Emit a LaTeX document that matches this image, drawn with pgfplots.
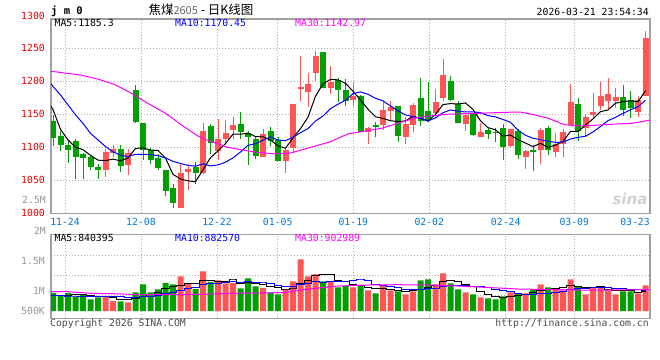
\documentclass[border=0pt]{standalone}
\usepackage{pgfplots}
\pgfplotsset{compat=1.18}
\usepackage{pgfplotstable}
\usepackage{fontspec}
\setmainfont{DejaVu Sans Mono}
\newfontfamily\cjk{Noto Sans CJK SC}
\newfontfamily\sansf{DejaVu Sans}
\definecolor{upc}{RGB}{255,85,85}
\definecolor{dnc}{RGB}{0,160,0}
\definecolor{framec}{RGB}{160,160,160}
\definecolor{gridc}{RGB}{175,175,175}
\definecolor{datec}{RGB}{0,120,215}
\definecolor{pricec}{RGB}{235,0,0}
\definecolor{ma10c}{RGB}{0,0,255}
\definecolor{ma30c}{RGB}{255,0,255}
\definecolor{volc}{RGB}{150,150,150}

% up (red) candles: index, open, high, low, close, volume (thousands)
\pgfplotstableread{
i o h l c v
7 1065.8 1098 1055.6 1092.9 620
8 1091.8 1103 1085.2 1096.9 422
10 1073.5 1098 1058.2 1091.3 367
17 1008.7 1075 1007.7 1061.7 1464
18 1063 1075 1035 1067 1169
20 1060.7 1137 1060 1125 1675
22 1095 1143 1080 1113 1296
23 1113 1141 1106 1122 1169
24 1126 1145 1112 1133 1182
28 1085.2 1127 1085 1119.9 971
31 1079 1098 1061.2 1096.4 928
32 1099.5 1166 1091.3 1165.3 1253
33 1187.8 1238.3 1169.4 1190.8 2182
34 1183.2 1211.7 1160.7 1195.4 1464
35 1212.8 1245.9 1200 1238.3 1561
37 1189.8 1223 1181 1199 1253
40 1172 1199 1161.7 1178 1000
42 1123.5 1131 1105.6 1129.6 874
44 1133.7 1169.4 1126 1156.6 1055
45 1154.6 1169.4 1141.3 1160.7 874
47 1114.8 1146.4 1105.6 1135.2 705
48 1133.2 1166.8 1123.5 1164.3 831
51 1151.5 1188.3 1146.4 1167.9 1127
52 1174.5 1234.2 1169.4 1208.7 1591
55 1135.2 1150.5 1125 1149 789
57 1114.8 1136.2 1114.8 1123.5 578
61 1102 1127 1100.5 1127 789
63 1085.2 1095.4 1067.4 1094.4 747
65 1096.4 1128.6 1074 1126 1127
67 1092.9 1120.9 1085.2 1105.6 958
68 1105.6 1127 1085.2 1123.5 874
69 1133.7 1194.9 1133.7 1167.9 1338
71 1128.6 1149 1115.8 1145.4 705
72 1148.5 1182.1 1143.9 1152.6 1000
73 1161.7 1199 1155.6 1178 1000
74 1169.4 1205 1155.6 1181.1 874
75 1169.9 1189.8 1159.2 1176 705
78 1154 1177 1146.4 1170.9 747
79 1177 1275.5 1177 1264.8 1085
}\uptab

% down (green) candles
\pgfplotstableread{
i o h l c v
0 1140.3 1149 1102 1113.3 760
1 1117.3 1124.5 1094.4 1102.6 633
2 1103.6 1110.7 1076.5 1096.4 760
3 1109.7 1111.7 1052 1085.2 603
4 1089.8 1091.3 1052.5 1084.2 705
5 1085.2 1087.8 1065.3 1070.4 494
6 1069.4 1075 1052 1065.8 578
9 1097.4 1103.6 1062.2 1070.9 409
11 1186.2 1193.9 1137.2 1138.8 789
12 1137.2 1137.2 1081 1096.4 1127
13 1095.4 1099.5 1075 1081.1 789
14 1083.2 1090.3 1064.8 1067.9 916
15 1065.3 1065.3 1026.5 1033.7 1182
16 1037.8 1044.4 1007.7 1015.3 1127
19 1069.9 1077.6 1044.4 1060.7 928
21 1132.7 1134.7 1090.3 1106.6 1224
25 1135.2 1154 1111.7 1123.5 958
26 1122 1124.5 1072.5 1114.8 1380
27 1112.2 1114.8 1082.7 1087.2 1042
29 1125 1130 1102 1109.7 789
30 1110.7 1115.8 1079 1079 705
36 1244.4 1244.4 1189 1189.8 1253
38 1201 1205 1167.9 1187.2 1000
39 1187.2 1202.6 1162.8 1169.4 1055
41 1177 1179.6 1122.5 1123.5 1068
43 1133 1138.8 1114.8 1130 747
46 1161.7 1162.8 1108.2 1116.8 831
49 1174 1205 1132.2 1140.3 1296
50 1155 1198.5 1138.8 1141.3 1338
53 1200 1207.7 1169.4 1172 1169
54 1165.8 1169.4 1136.2 1137.2 916
56 1150.5 1151.5 1116.8 1118.4 705
58 1126 1128.6 1111.7 1119.9 536
59 1123.5 1128.6 1108.2 1121 494
60 1129.6 1135.2 1081.1 1100.5 620
62 1125 1127 1082.7 1088.8 747
64 1096.4 1103 1063.3 1093.4 916
66 1129.6 1132.2 1087.8 1096.4 1000
70 1165.3 1174.5 1109.7 1125 1042
76 1176 1193.4 1147.4 1156.6 831
77 1172 1184.7 1143.9 1159.2 831
}\dntab

% price moving averages (MA5, MA10); vol moving averages (thousands)
\pgfplotstableread{
i m5 m10 v5 v10
-0.27 1162 1196 654 646
0 1157 1192 654 646
1 1127 1179 646 641
2 1111 1164 675 633
3 1100 1149 684 633
4 1096.3 1136 692 625
5 1087.8 1121 639 616
6 1080.4 1111 628 612
7 1079.7 1101 600 608
8 1082.0 1093 564 603
9 1079.4 1087.9 505 598
10 1083.6 1085.7 479 559
11 1098.2 1089.3 522 575
12 1098.9 1089.3 623 611
13 1095.7 1088.9 696 630
14 1095.1 1087.3 798 651
15 1083.6 1083.6 960 720
16 1058.9 1078.6 1028 775
17 1051.9 1075.4 1096 859
18 1049.1 1072.4 1171 934
19 1047.7 1071.4 1174 986
20 1065.9 1074.8 1273 1117
21 1084.2 1071.6 1292 1160
22 1094.5 1073.2 1258 1177
23 1105.5 1077.3 1258 1215
24 1119.9 1083.8 1309 1242
25 1119.6 1092.8 1166 1219
26 1121.3 1102.8 1197 1244
27 1116.1 1105.3 1146 1202
28 1115.7 1110.6 1106 1182
29 1111.0 1115.5 1028 1169
30 1102.1 1110.9 977 1071
31 1098.4 1109.9 887 1042
32 1114.1 1115.1 929 1038
33 1128.2 1122.0 1171 1139
34 1145.4 1128.2 1307 1167
35 1177.2 1139.7 1478 1228
36 1195.9 1147.2 1543 1215
37 1202.7 1158.4 1543 1236
38 1201.9 1165.1 1307 1239
39 1196.7 1171.1 1225 1266
40 1184.7 1181.0 1112 1295
41 1171.4 1183.7 1075 1309
42 1157.5 1180.1 999 1271
43 1146.1 1174.0 949 1128
44 1143.5 1170.1 949 1087
45 1140.1 1162.4 923 1018
46 1138.7 1155.1 876 976
47 1139.9 1148.7 842 921
48 1146.7 1146.4 859 904
49 1143.5 1143.5 907 928
50 1139.6 1139.9 1000 962
51 1149.8 1144.3 1059 968
52 1164.5 1152.2 1236 1039
53 1166.0 1156.4 1304 1082
54 1165.4 1154.5 1228 1068
55 1167.0 1153.3 1118 1059
56 1157.1 1153.5 1034 1047
57 1140.0 1152.3 831 1034
58 1129.6 1147.8 705 1004
59 1126.4 1145.9 620 924
60 1116.7 1141.9 587 852
61 1118.4 1137.8 603 819
62 1111.4 1125.7 637 734
63 1106.3 1118.0 679 692
64 1100.8 1113.6 764 692
65 1105.9 1111.3 865 726
66 1099.8 1109.1 907 755
67 1103.2 1107.3 950 793
68 1109.0 1107.7 975 827
69 1123.9 1112.4 1059 912
70 1123.7 1114.8 1042 954
71 1133.5 1116.7 983 945
72 1142.9 1123.1 992 971
73 1153.8 1131.4 1017 996
74 1156.4 1140.2 924 992
75 1166.6 1145.2 857 950
76 1168.9 1151.2 882 933
77 1170.2 1156.6 848 920
78 1168.8 1161.3 798 907
79 1185.5 1171.0 840 882
}\matab

% 30-day averages (price, volume in thousands)
\pgfplotstableread{
i p
-0.3 1215
3.8 1209
6 1203
8.2 1195
10.4 1182
12.7 1166
14.9 1152
17.1 1134
19.3 1117
20.5 1111
23.2 1100
26.7 1093
29.4 1090
31.6 1091
33.8 1098
36.9 1108
39.3 1120
43.8 1128.6
48.2 1144
50 1147
52.7 1150
57.1 1151.5
61 1153
62.4 1153
63.8 1150
66 1144
68.2 1134
70.4 1132
72.7 1133.5
74.9 1135
77.1 1136
79.6 1141
}\mathirty

\pgfplotstableread{
i v
-0.3 814
2 814
5 747
8 730
12 688
16 688
20 705
24 747
28 760
31 781
33 886
36 992
38 1055
42 1097
46 1110
50 1097
54 1055
58 992
62 928
66 907
70 886
74 886
79.6 903
}\vthirty

\newcommand{\fs}{\fontsize{9.8bp}{11bp}\selectfont}

\pgfplotsset{
  sina/.style={
    scale only axis, width=599bp,
    xmin=-0.267, xmax=79.6,
    axis line style={draw=framec, line width=1.4bp},
    major tick length=0pt,
    grid=major,
    major grid style={draw=gridc, dash pattern=on 1bp off 2bp, line width=0.9bp},
    xtick={1.6,11.73,21.87,29.96,40.04,50.17,60.36,69.5},
    tick label style={font=\fs},
    yticklabel style={anchor=east, inner sep=0pt, xshift=-6bp},
  },
  candle/.style 2 args={only marks, mark=none, mark size=0pt,
    mark options={draw=none, fill=none},
    error bars/.cd, y dir=plus, y explicit, error mark=none,
    error bar style={draw=#1, solid, line width=#2}},
}

\begin{document}
\begin{tikzpicture}
\path[use as bounding box] (0,0) rectangle (660bp,360bp);

% ---------- price panel ----------
\begin{axis}[sina, name=top, at={(51bp,146.7bp)}, anchor=south west, height=194.3bp,
  ymin=1000, ymax=1294,
  ytick={1000,1050,1100,1150,1200,1250},
  yticklabels={1000,1050,1100,1150,1200,1250},
  yticklabel style={text=pricec},
  xticklabels={11-24,12-08,12-22,01-05,01-19,02-02,02-24,03-09},
  xticklabel style={text=datec, anchor=north, inner sep=0pt, yshift=-4.5bp},
  extra x ticks={77.6}, extra x tick labels={03-23},
  extra x tick style={grid=none},
]
% wicks
\addplot[candle={dnc}{1bp}]
  table[x=i, y=l, y error plus expr=\thisrow{h}-\thisrow{l}] {\dntab};
\addplot[candle={upc}{1bp}]
  table[x=i, y=l, y error plus expr=\thisrow{h}-\thisrow{l}] {\uptab};
% bodies
\addplot[candle={dnc}{6bp}]
  table[x=i, y=c, y error plus expr=\thisrow{o}-\thisrow{c}] {\dntab};
\addplot[candle={upc}{6bp}]
  table[x=i, y=o, y error plus expr=\thisrow{c}-\thisrow{o}] {\uptab};
% moving averages
\addplot[black, line width=1bp, no marks] table[x=i, y=m5] {\matab};
\addplot[ma10c, line width=1bp, no marks] table[x=i, y=m10] {\matab};
\addplot[ma30c, line width=1bp, no marks] table[x=i, y=p] {\mathirty};
\end{axis}

% ---------- volume panel ----------
\begin{axis}[sina, name=vol, at={(51bp,41.7bp)}, anchor=south west, height=84bp,
  ymin=-308, ymax=3237,
  ytick={646,1490,2334}, yticklabels={},
  extra y ticks={13,857,2123}, extra y tick labels={500K,1M,1.5M},
  extra y tick style={grid=none},
  yticklabel style={text=volc},
  xticklabels={},
]
\addplot[ybar, bar width=6bp, bar shift=0pt, fill=dnc, draw=none] table[x=i, y=v] {\dntab};
\addplot[ybar, bar width=6bp, bar shift=0pt, fill=upc, draw=none] table[x=i, y=v] {\uptab};
\addplot[black, line width=1bp, no marks, const plot mark mid] table[x=i, y=v5] {\matab};
\addplot[ma10c, line width=1bp, no marks, const plot mark mid] table[x=i, y=v10] {\matab};
\addplot[ma30c, line width=1bp, no marks] table[x=i, y=v] {\vthirty};
\end{axis}

% ---------- texts ----------
\node[anchor=west, inner sep=0pt, font=\fontsize{10.5bp}{12bp}\selectfont\bfseries] at (51bp,348.5bp) {j m 0};
\node[anchor=center, inner sep=0pt] at (201bp,350bp)
  {\cjk\fontsize{12.5bp}{14bp}\selectfont 焦煤{\color{black!60}\fontsize{11bp}{12bp}\selectfont 2605} - 日K线图};
\node[anchor=east, inner sep=0pt, font=\fs] at (649bp,348bp) {2026-03-21 23:54:34};
\node[anchor=east, inner sep=0pt, font=\fs, text=pricec] at (45bp,344.3bp) {1300};
\node[anchor=west, inner sep=0pt, font=\fs] at (54.5bp,337bp) {MA5:1185.3};
\node[anchor=west, inner sep=0pt, font=\fs, text=ma10c] at (175bp,337bp) {MA10:1170.45};
\node[anchor=west, inner sep=0pt, font=\fs, text=ma30c] at (295bp,337bp) {MA30:1142.97};
\node[anchor=east, inner sep=0pt, font=\fs, text=volc] at (46bp,160bp) {2.5M};
\node[anchor=east, inner sep=0pt, font=\fs, text=volc] at (46bp,129.3bp) {2M};
\node[anchor=west, inner sep=0pt, font=\fs] at (54.5bp,122.3bp) {MA5:840395};
\node[anchor=west, inner sep=0pt, font=\fs, text=ma10c] at (175bp,122.3bp) {MA10:882570};
\node[anchor=west, inner sep=0pt, font=\fs, text=ma30c] at (295bp,122.3bp) {MA30:902989};
\node[anchor=west, inner sep=0pt, font=\fs, text=black!70] at (50bp,36bp) {Copyright 2026 SINA.COM};
\node[anchor=east, inner sep=0pt, font=\fs, text=black!70] at (649bp,36bp) {http://finance.sina.com.cn};
\node[anchor=center, inner sep=0pt, text=black!18, font=\sansf\fontsize{15bp}{16bp}\selectfont\bfseries\itshape] at (630bp,161bp) {sina};
\end{tikzpicture}
\end{document}
